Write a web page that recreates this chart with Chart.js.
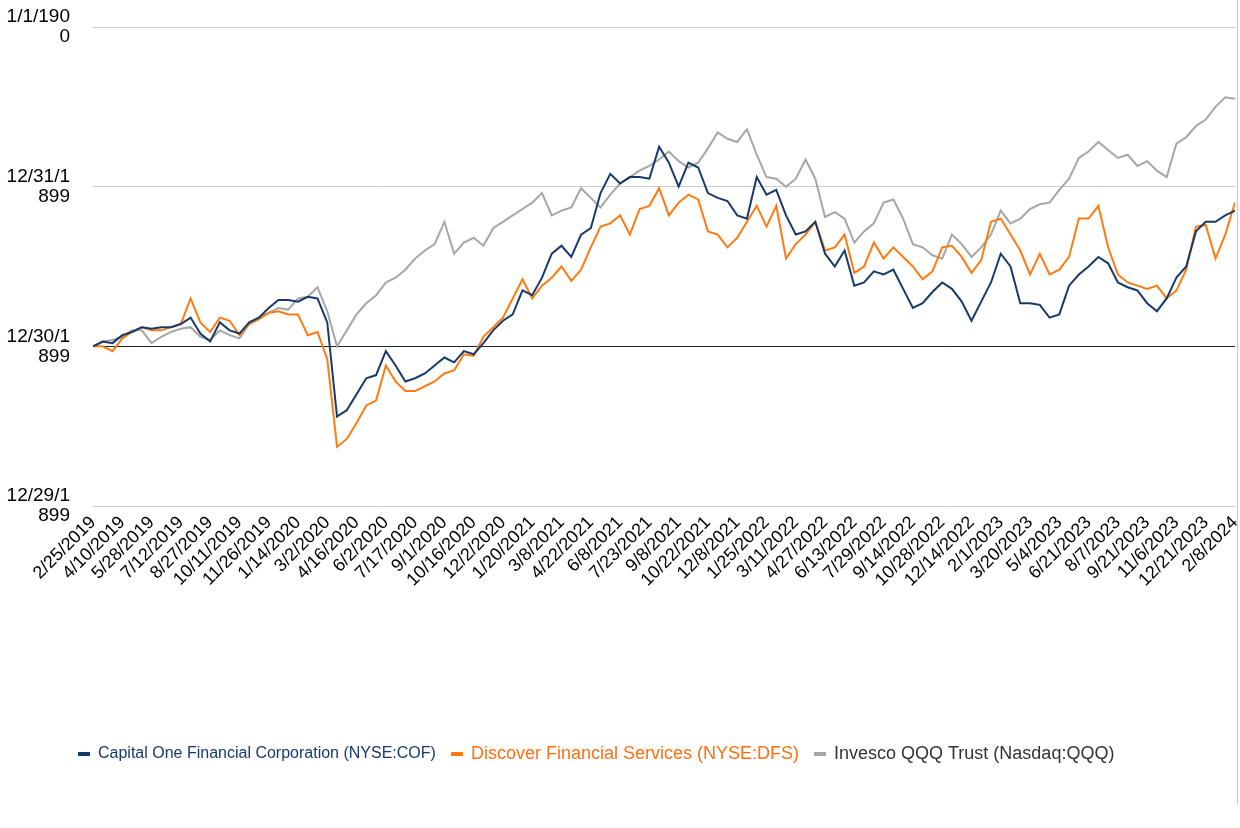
<!DOCTYPE html>
<html>
<head>
<meta charset="utf-8">
<script src="https://cdn.jsdelivr.net/npm/chart.js@4.4.1/dist/chart.umd.min.js"></script>
<style>
    html, body { margin: 0; padding: 0; background: #fff; }
    #wrap { position: relative; width: 1240px; height: 828px; }
    #edge { position: absolute; left: 1237px; top: 0; width: 1px; height: 805px; background: #c8c8c8; }
</style>
</head>
<body>
<div id="wrap">
    <canvas id="chart" width="1240" height="828"></canvas>
    <div id="edge"></div>
</div>
<script>
// Tick labels along the bottom (one every 3 samples)
const tickLabels = [
    '2/25/2019', '4/10/2019', '5/28/2019', '7/12/2019', '8/27/2019', '10/11/2019', '11/26/2019',
    '1/14/2020', '3/2/2020', '4/16/2020', '6/2/2020', '7/17/2020', '9/1/2020', '10/16/2020', '12/2/2020',
    '1/20/2021', '3/8/2021', '4/22/2021', '6/8/2021', '7/23/2021', '9/8/2021', '10/22/2021', '12/8/2021',
    '1/25/2022', '3/11/2022', '4/27/2022', '6/13/2022', '7/29/2022', '9/14/2022', '10/28/2022', '12/14/2022',
    '2/1/2023', '3/20/2023', '5/4/2023', '6/21/2023', '8/7/2023', '9/21/2023', '11/6/2023', '12/21/2023',
    '2/8/2024'
];

// y tick labels (sheet date formatting of -1, 0, 1, 2)
const yTickLabels = {
    '-1': ['12/29/1', '899'],
    '0': ['12/30/1', '899'],
    '1': ['12/31/1', '899'],
    '2': ['1/1/190', '0']
};

const samplesPerTick = 3;

// Cumulative return
const cofValues = [
    0.00, 0.03, 0.02, 0.07, 0.09, 0.12, 0.11, 0.12, 0.12, 0.14,
    0.18, 0.08, 0.03, 0.15, 0.10, 0.08, 0.15, 0.18, 0.24, 0.29,
    0.29, 0.28, 0.31, 0.30, 0.15, -0.44, -0.40, -0.30, -0.20, -0.18,
    -0.03, -0.12, -0.22, -0.20, -0.17, -0.12, -0.07, -0.10, -0.03, -0.05,
    0.02, 0.10, 0.16, 0.20, 0.35, 0.32, 0.43, 0.58, 0.63, 0.56,
    0.70, 0.74, 0.96, 1.08, 1.02, 1.06, 1.06, 1.05, 1.25, 1.15,
    1.00, 1.15, 1.12, 0.96, 0.93, 0.91, 0.82, 0.80, 1.06, 0.95,
    0.98, 0.82, 0.70, 0.72, 0.78, 0.58, 0.50, 0.60, 0.38, 0.40,
    0.47, 0.45, 0.48, 0.36, 0.24, 0.27, 0.34, 0.40, 0.36, 0.28,
    0.16, 0.28, 0.40, 0.58, 0.50, 0.27, 0.27, 0.26, 0.18, 0.20,
    0.38, 0.45, 0.50, 0.56, 0.52, 0.40, 0.37, 0.35, 0.27, 0.22,
    0.30, 0.43, 0.50, 0.72, 0.78, 0.78, 0.82, 0.85
];

const dfsValues = [
    0.00, 0.00, -0.03, 0.05, 0.09, 0.12, 0.10, 0.10, 0.12, 0.14,
    0.30, 0.15, 0.09, 0.18, 0.16, 0.07, 0.14, 0.17, 0.21, 0.22,
    0.20, 0.20, 0.07, 0.09, -0.08, -0.63, -0.58, -0.48, -0.37, -0.34,
    -0.12, -0.22, -0.28, -0.28, -0.25, -0.22, -0.17, -0.15, -0.05, -0.06,
    0.06, 0.12, 0.18, 0.30, 0.42, 0.30, 0.38, 0.43, 0.50, 0.41,
    0.48, 0.62, 0.75, 0.77, 0.82, 0.70, 0.86, 0.88, 0.99, 0.82,
    0.90, 0.95, 0.92, 0.72, 0.70, 0.62, 0.68, 0.78, 0.88, 0.75,
    0.88, 0.55, 0.64, 0.70, 0.78, 0.60, 0.62, 0.70, 0.46, 0.50,
    0.65, 0.55, 0.62, 0.56, 0.50, 0.42, 0.47, 0.62, 0.63, 0.56,
    0.46, 0.54, 0.78, 0.80, 0.70, 0.60, 0.45, 0.58, 0.45, 0.48,
    0.56, 0.80, 0.80, 0.88, 0.62, 0.45, 0.40, 0.38, 0.36, 0.38,
    0.30, 0.35, 0.48, 0.75, 0.76, 0.55, 0.70, 0.90
];

const qqqValues = [
    0.00, 0.03, 0.04, 0.06, 0.10, 0.10, 0.02, 0.06, 0.09, 0.11,
    0.12, 0.06, 0.04, 0.10, 0.07, 0.05, 0.14, 0.18, 0.21, 0.24,
    0.23, 0.30, 0.31, 0.37, 0.22, 0.00, 0.10, 0.20, 0.27, 0.32,
    0.40, 0.43, 0.48, 0.55, 0.60, 0.64, 0.78, 0.58, 0.65, 0.68,
    0.63, 0.74, 0.78, 0.82, 0.86, 0.90, 0.96, 0.82, 0.85, 0.87,
    0.99, 0.93, 0.87, 0.95, 1.02, 1.06, 1.10, 1.13, 1.17, 1.22,
    1.16, 1.12, 1.15, 1.24, 1.34, 1.30, 1.28, 1.36, 1.20, 1.06,
    1.05, 1.00, 1.05, 1.17, 1.05, 0.81, 0.84, 0.80, 0.65, 0.72,
    0.77, 0.90, 0.92, 0.80, 0.64, 0.62, 0.57, 0.55, 0.70, 0.64,
    0.56, 0.62, 0.70, 0.85, 0.77, 0.80, 0.86, 0.89, 0.90, 0.98,
    1.05, 1.18, 1.22, 1.28, 1.23, 1.18, 1.20, 1.13, 1.16, 1.10,
    1.06, 1.27, 1.31, 1.38, 1.42, 1.50, 1.56, 1.55
];

const seriesNames = [
    'Capital One Financial Corporation (NYSE:COF)',
    'Discover Financial Services (NYSE:DFS)',
    'Invesco QQQ Trust (Nasdaq:QQQ)'
];
const lineColors = ['#173a6a', '#ff7b12', '#a6a6a6'];
const textColors = ['#173a6a', '#ff6e14', '#333333'];
const legendFontSizes = [16, 18, 18];

// place samples on the tick scale
function toPoints(values) {
    return values.map((v, i) => ({ x: i / samplesPerTick, y: v }));
}

const FONT = '"Liberation Sans", Arial, sans-serif';

// legend drawn by hand: the sheet mixes font sizes between entries
const sheetLegend = {
    id: 'sheetLegend',
    afterDraw(chart) {
        const ctx = chart.ctx;
        let x = 78;
        const y = 754;
        ctx.save();
        ctx.textBaseline = 'middle';
        chart.data.datasets.forEach((ds, i) => {
            ctx.fillStyle = lineColors[i];
            ctx.fillRect(x, y - 2, 12, 4);
            x += 20;
            ctx.font = legendFontSizes[i] + 'px ' + FONT;
            ctx.fillStyle = textColors[i];
            ctx.fillText(ds.label, x, y);
            x += ctx.measureText(ds.label).width + 15;
        });
        ctx.restore();
    }
};

new Chart(document.getElementById('chart'), {
    type: 'line',
    data: {
        datasets: [cofValues, dfsValues, qqqValues].map((vals, i) => ({
            label: seriesNames[i],
            data: toPoints(vals),
            borderColor: lineColors[i],
            backgroundColor: lineColors[i],
            borderWidth: 2,
            pointRadius: 0,
            tension: 0
        }))
    },
    plugins: [sheetLegend],
    options: {
        responsive: false,
        animation: false,
        layout: { padding: { top: 27, right: 5, bottom: 0, left: 0 } },
        plugins: {
            tooltip: { enabled: false },
            legend: { display: false }
        },
        scales: {
            x: {
                type: 'linear',
                min: 0,
                max: tickLabels.length - 1,
                grid: { display: false, drawTicks: false },
                border: { display: false },
                afterFit: (s) => { s.height = 322; s.paddingLeft = 0; s.paddingRight = 0; },
                afterBuildTicks: (s) => {
                    s.ticks = tickLabels.map((_, i) => ({ value: i }));
                },
                ticks: {
                    autoSkip: false,
                    minRotation: 45,
                    maxRotation: 45,
                    padding: 6,
                    color: '#000',
                    font: { family: FONT, size: 18 },
                    callback: (v) => tickLabels[v]
                }
            },
            y: {
                min: -1,
                max: 2,
                afterFit: (s) => { s.width = 93; s.paddingTop = 0; s.paddingBottom = 0; },
                afterBuildTicks: (s) => {
                    s.ticks = [-1, 0, 1, 2].map(v => ({ value: v }));
                },
                grid: {
                    drawTicks: false,
                    color: (ctx) => ctx.tick && ctx.tick.value === 0 ? '#222' : '#cccccc',
                    lineWidth: 1
                },
                border: { display: false },
                ticks: {
                    padding: 23,
                    color: '#000',
                    font: { family: FONT, size: 19, lineHeight: 1.05 },
                    callback: (v) => yTickLabels[String(v)]
                }
            }
        }
    }
});
</script>
</body>
</html>
